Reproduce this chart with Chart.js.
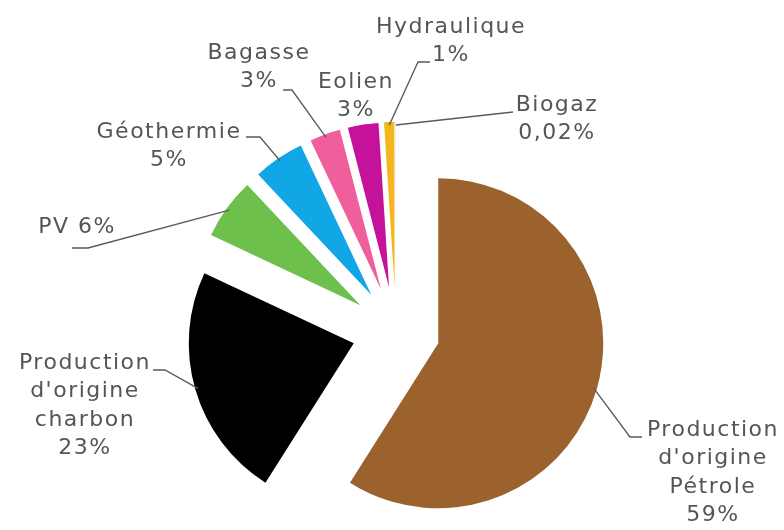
<!DOCTYPE html>
<html><head><meta charset="utf-8">
<script src="https://cdn.jsdelivr.net/npm/chart.js@4"></script>
<style>html,body{margin:0;padding:0;background:#fff}#wrap{width:784px;height:530px;position:relative}</style>
</head><body><div id="wrap"><canvas id="c"></canvas></div>
<script>
// ---- data ----
const categories = ["Production d'origine Pétrole", "Production d'origine charbon", "PV", "Géothermie", "Bagasse", "Eolien", "Hydraulique", "Biogaz"];
const shares = [59, 23, 6, 5, 3, 3, 1, 0.02];
const sliceColors = ["#9B622D", "#000000", "#6DC04B", "#11A6E6", "#EF5F9B", "#C4139A", "#F3B61F", "#A5A5A5"];
// how each category name is wrapped in its label (PV is written inline)
const nameLines = [["Production", "d'origine", "Pétrole"], ["Production", "d'origine", "charbon"], null, ["Géothermie"], ["Bagasse"], ["Eolien"], ["Hydraulique"], ["Biogaz"]];

// ---- layout (positions/styles only) ----
const R = 165;            // pie radius in px
const EXPLODE = 44;       // explosion distance in px
const LINE_H = 28.5;
const labelLayout = [
  {x: 713, y: 430, path: [[642, 437], [630, 437]]},
  {x: 85,  y: 363, path: [[153, 370], [165, 370]]},
  {x: 77,  y: 227, path: [[72, 248], [88, 248]]},
  {x: 169, y: 132, path: [[246, 137], [260, 137]]},
  {x: 259, y: 53,  path: [[283, 90], [292, 90]]},
  {x: 356, y: 82,  path: null},
  {x: 451, y: 27,  path: [[430, 62], [418, 62]]},
  {x: 557, y: 105, path: [[513, 112]]}
];

const fmtPct = v => v.toLocaleString('fr-FR') + '%';

// keep every exploded slice at the same radius and full angle
// (Chart.js enlarges and narrows offset slices)
const keepGeometry = {
  id: 'keepGeometry',
  afterDatasetsUpdate(chart) {
    chart.getDatasetMeta(0).data.forEach(el => {
      const off = ((el.options && el.options.offset) || 0) / 4;
      const fix = 1 - Math.sin(Math.min(Math.PI, el.circumference || 0));
      const radOff = off * fix;
      el.outerRadius = R - radOff;
      const delta = (radOff / Math.PI) / R;
      el.startAngle -= delta / 2;
      el.endAngle += delta / 2;
    });
  }
};

const labelsPlugin = {
  id: 'sliceLabels',
  afterDraw(chart) {
    const ctx = chart.ctx;
    const meta = chart.getDatasetMeta(0);
    ctx.save();
    ctx.strokeStyle = '#5a5a5a';
    ctx.lineWidth = 1.3;
    meta.data.forEach((el, i) => {
      const L = labelLayout[i];
      if (!L.path) return;
      const off = el.options.offset / 4;
      const mid = (el.startAngle + el.endAngle) / 2;
      const r = off + R - 3;
      const ex = el.x + Math.cos(mid) * r, ey = el.y + Math.sin(mid) * r;
      ctx.beginPath();
      ctx.moveTo(L.path[0][0], L.path[0][1]);
      for (let k = 1; k < L.path.length; k++) ctx.lineTo(L.path[k][0], L.path[k][1]);
      ctx.lineTo(ex, ey);
      ctx.stroke();
    });
    ctx.fillStyle = '#555555';
    ctx.font = '22px "DejaVu Sans"';
    try { ctx.letterSpacing = '1.5px'; } catch (e) {}
    ctx.textAlign = 'center';
    ctx.textBaseline = 'middle';
    categories.forEach((name, i) => {
      const L = labelLayout[i];
      const pct = fmtPct(shares[i]);
      const lines = nameLines[i] ? [...nameLines[i], pct] : [name + ' ' + pct];
      lines.forEach((t, k) => ctx.fillText(t, L.x, L.y + k * LINE_H));
    });
    ctx.restore();
  }
};

new Chart(document.getElementById('c'), {
  type: 'pie',
  data: {
    labels: categories,
    datasets: [{
      data: shares,
      backgroundColor: sliceColors,
      borderWidth: 0,
      offset: EXPLODE * 4,
      hoverOffset: 0
    }]
  },
  options: {
    responsive: true,
    maintainAspectRatio: false,
    animation: false,
    radius: R,
    layout: {padding: {top: 132, left: 8, right: 0, bottom: 0}},
    plugins: {legend: {display: false}, tooltip: {enabled: false}},
    events: []
  },
  plugins: [keepGeometry, labelsPlugin]
});
</script>
</body></html>
